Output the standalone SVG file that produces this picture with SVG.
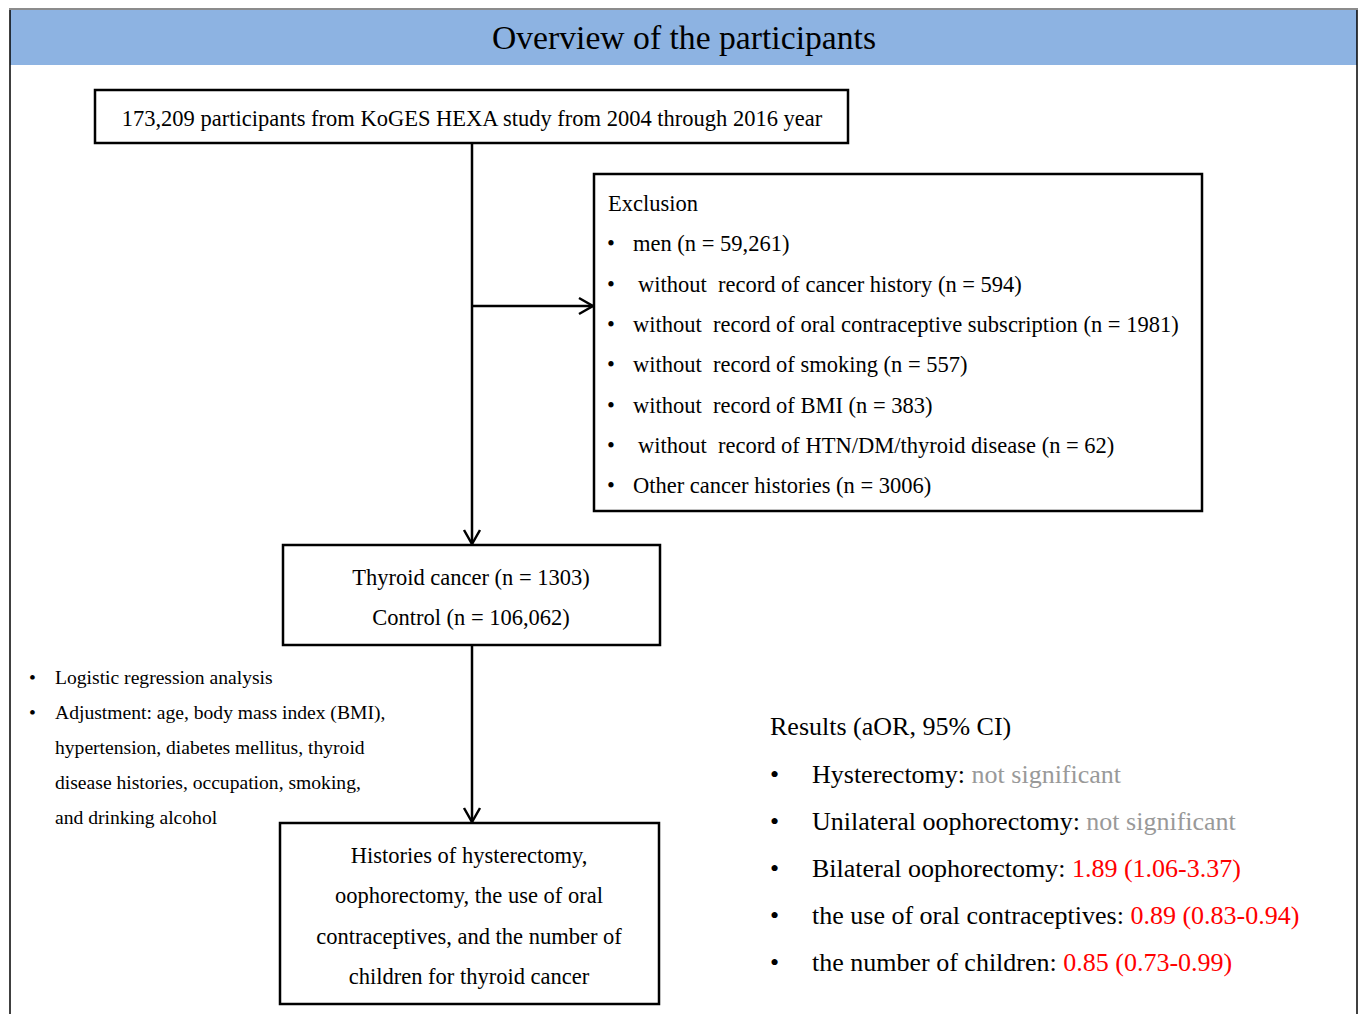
<svg xmlns="http://www.w3.org/2000/svg" width="1362" height="1014" viewBox="0 0 1362 1014">
<defs>
<style>
text{font-family:"Liberation Serif","Times New Roman",serif;fill:#000}
.box{fill:#fff;stroke:#000;stroke-width:2.5}
.t21{font-size:22.5px}
.t19{font-size:19.6px}
.t24{font-size:26px}
.gray{fill:#999}
.red{fill:#ff0000}
.ln{stroke:#000;stroke-width:2.5;fill:none}
</style>
<marker id="arr" viewBox="0 0 20 20" refX="18" refY="10" markerWidth="20" markerHeight="20" markerUnits="userSpaceOnUse" orient="auto">
<path d="M4,2 L18,10 L4,18" fill="none" stroke="#000" stroke-width="2.5"/>
</marker>
</defs>
<rect width="1362" height="1014" fill="#fff"/>
<g id="frame">
<rect x="10" y="10" width="1347" height="55" fill="#8db3e2"/>
<line x1="9" y1="9" x2="1358" y2="9" stroke="#666" stroke-width="1.5"/>
<line x1="10" y1="10" x2="10" y2="1014" stroke="#000" stroke-width="1.5"/>
<line x1="1357" y1="10" x2="1357" y2="1014" stroke="#000" stroke-width="1.5"/>
<text x="684" y="49" font-size="34" text-anchor="middle" textLength="384" lengthAdjust="spacingAndGlyphs">Overview of the participants</text>
</g>
<g id="connectors">
<line class="ln" x1="472" y1="143" x2="472" y2="544" marker-end="url(#arr)"/>
<line class="ln" x1="472" y1="306" x2="593" y2="306" marker-end="url(#arr)"/>
<line class="ln" x1="472" y1="645" x2="472" y2="822" marker-end="url(#arr)"/>
</g>
<g id="node-start">
<rect class="box" x="95" y="90" width="753" height="53"/>
<text class="t21" x="472" y="126" text-anchor="middle">173,209 participants from KoGES HEXA study from 2004 through 2016 year</text>
</g>
<g id="node-exclusion">
<rect class="box" x="594" y="174" width="608" height="337"/>
<text class="t21" x="608" y="211">Exclusion</text>
<g class="t21">
<text x="607" y="251">•</text><text x="633" y="251">men (n = 59,261)</text>
<text x="607" y="292">•</text><text x="638" y="292" xml:space="preserve">without  record of cancer history (n = 594)</text>
<text x="607" y="332">•</text><text x="633" y="332" xml:space="preserve">without  record of oral contraceptive subscription (n = 1981)</text>
<text x="607" y="372">•</text><text x="633" y="372" xml:space="preserve">without  record of smoking (n = 557)</text>
<text x="607" y="413">•</text><text x="633" y="413" xml:space="preserve">without  record of BMI (n = 383)</text>
<text x="607" y="453">•</text><text x="638" y="453" xml:space="preserve">without  record of HTN/DM/thyroid disease (n = 62)</text>
<text x="607" y="493">•</text><text x="633" y="493">Other cancer histories (n = 3006)</text>
</g>
</g>
<g id="node-groups">
<rect class="box" x="283" y="545" width="377" height="100"/>
<text class="t21" x="471" y="585" text-anchor="middle">Thyroid cancer (n = 1303)</text>
<text class="t21" x="471" y="625" text-anchor="middle">Control (n = 106,062)</text>
</g>
<g id="node-outcome">
<rect class="box" x="280" y="823" width="379" height="181"/>
<g class="t21" text-anchor="middle">
<text x="469" y="863">Histories of hysterectomy,</text>
<text x="469" y="903">oophorectomy, the use of oral</text>
<text x="469" y="944">contraceptives, and the number of</text>
<text x="469" y="984">children for thyroid cancer</text>
</g>
</g>
<g id="analysis-notes" class="t19">
<text x="29" y="684">•</text><text x="55" y="684">Logistic regression analysis</text>
<text x="29" y="719">•</text><text x="55" y="719">Adjustment: age, body mass index (BMI),</text>
<text x="55" y="754">hypertension, diabetes mellitus, thyroid</text>
<text x="55" y="789">disease histories, occupation, smoking,</text>
<text x="55" y="824">and drinking alcohol</text>
</g>
<g id="results" class="t24">
<text x="770" y="735">Results (aOR, 95% CI)</text>
<text x="770" y="783">•</text><text x="812" y="783">Hysterectomy: <tspan class="gray">not significant</tspan></text>
<text x="770" y="830">•</text><text x="812" y="830">Unilateral oophorectomy: <tspan class="gray">not significant</tspan></text>
<text x="770" y="877">•</text><text x="812" y="877">Bilateral oophorectomy: <tspan class="red">1.89 (1.06-3.37)</tspan></text>
<text x="770" y="924">•</text><text x="812" y="924">the use of oral contraceptives: <tspan class="red">0.89 (0.83-0.94)</tspan></text>
<text x="770" y="971">•</text><text x="812" y="971">the number of children: <tspan class="red">0.85 (0.73-0.99)</tspan></text>
</g>
</svg>
